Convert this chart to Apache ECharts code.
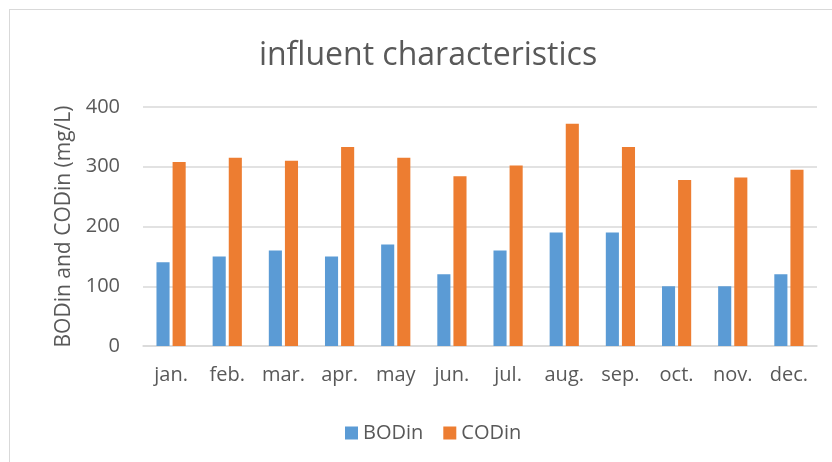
<!DOCTYPE html>
<html><head><meta charset="utf-8">
<script src="https://cdn.jsdelivr.net/npm/echarts@6/dist/echarts.min.js"></script>
<style>html,body{margin:0;padding:0;background:#fff}#c{width:832px;height:462px}
#frame{position:absolute;left:9px;top:9px;width:840px;height:460px;border:1px solid #d9d9d9;pointer-events:none}</style>
</head><body><div id="c"></div><div id="frame"></div>
<script>
const categories = ['jan.','feb.','mar.','apr.','may','jun.','jul.','aug.','sep.','oct.','nov.','dec.'];
const bodIn = [140,150,160,150,170,120,160,190,190,100,100,120];
const codIn = [308,315,310,333,315,284,302,372,333,278,282,295];
const yTicks = [0,100,200,300,400];
const FONT = '"Open Sans", sans-serif';
const chart = echarts.init(document.getElementById('c'));
chart.setOption({
  animation:false,
  title:{text:'influent characteristics',left:423,textAlign:'center',top:35,
    textStyle:{fontFamily:FONT,fontSize:32,fontWeight:'normal',color:'#595959'}},
  grid:{left:143,right:15,top:107,bottom:116},
  legend:{top:418,left:340,itemWidth:13,itemHeight:13,itemGap:20,icon:'rect',
    textStyle:{fontFamily:FONT,fontSize:20,color:'#595959'},data:['BODin','CODin']},
  xAxis:{type:'category',data:categories,
    axisLine:{lineStyle:{color:'#d9d9d9',width:1.5}},axisTick:{show:false},
    axisLabel:{fontFamily:FONT,fontSize:20,color:'#595959',margin:19}},
  yAxis:{type:'value',min:yTicks[0],max:yTicks[yTicks.length-1],interval:100,
    name:'BODin and CODin (mg/L)',nameLocation:'middle',nameGap:50,
    nameTextStyle:{fontFamily:FONT,fontSize:21,color:'#595959'},
    axisLine:{show:false},axisTick:{show:false},
    axisLabel:{fontFamily:FONT,fontSize:20,color:'#595959',margin:23},
    splitLine:{lineStyle:{color:'#d9d9d9',width:1.5}}},
  series:[
    {name:'BODin',type:'bar',data:bodIn,barGap:'23%',barCategoryGap:'48%',
     itemStyle:{color:'#5B9BD5'}},
    {name:'CODin',type:'bar',data:codIn,itemStyle:{color:'#ED7D31'}}
  ]
});
</script></body></html>
